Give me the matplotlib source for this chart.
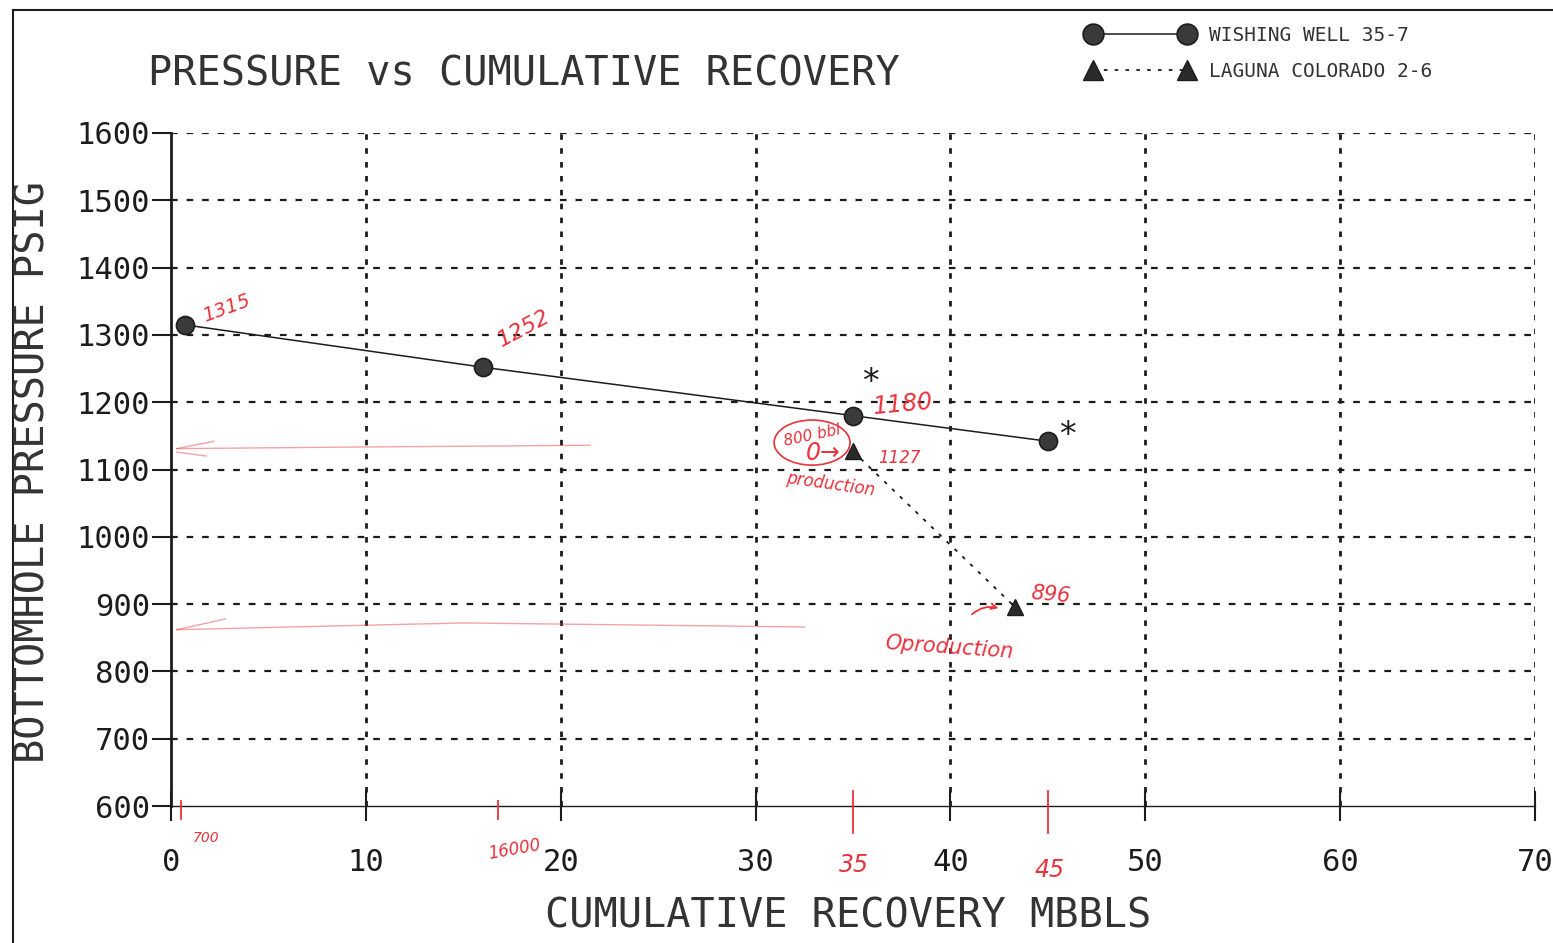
import numpy as np
import matplotlib
matplotlib.use("Agg")
import matplotlib.pyplot as plt
from matplotlib.patches import Ellipse
from matplotlib.lines import Line2D

# data (x in MBBLS, y in PSIG)
wishing_x = [0.7, 16.0, 35.0, 45.0]
wishing_y = [1315, 1252, 1180, 1142]
laguna_x = [35.0, 43.3]
laguna_y = [1127, 896]

x_ticks = [0, 10, 20, 30, 40, 50, 60, 70]
y_ticks = [600, 700, 800, 900, 1000, 1100, 1200, 1300, 1400, 1500, 1600]

# handwritten red notes: (x, y, text, size, rotation)
red_notes = [
    (1.5, 1340, "1315", 14, 20),
    (16.6, 1310, "1252", 16, 28),
    (36.0, 1197, "1180", 17, 5),
    (36.3, 1117, "1127", 12, 0),
    (44.1, 914, "896", 15, -5),
    (36.6, 835, "Oproduction", 15, -4),
    (31.5, 1078, "production", 12, -8),
    (31.4, 1150, "800 bbl", 11, 12),
    (32.6, 1125, "0\u2192", 17, 0),
    (1.1, 553, "700", 10, 0),
    (16.2, 535, "16000", 12, 10),
    (34.3, 512, "35", 17, 0),
    (44.3, 505, "45", 17, 0),
]
red_ticks = [0.5, 16.8, 35.0, 45.0]

mono = "DejaVu Sans Mono"
ink = "#1c1c1c"
red = "#e8323c"

fig = plt.figure(figsize=(15.53, 9.43), dpi=100)
ax = fig.add_axes([171 / 1553, 1 - 806 / 943, (1535 - 171) / 1553, (806 - 133) / 943])

ax.set_xlim(0, 70)
ax.set_ylim(600, 1600)
ax.set_xticks(x_ticks)
ax.set_yticks(y_ticks)
ax.set_xticklabels([str(v) for v in x_ticks], family=mono, fontsize=22, color="#333")
ax.set_yticklabels([str(v) for v in y_ticks], family=mono, fontsize=22, color="#333")
ax.tick_params(axis="y", direction="out", length=14, width=1.5, pad=1, colors=ink)
ax.tick_params(axis="x", direction="inout", length=22, width=1.5, pad=19, colors=ink)

for s in ["top", "right"]:
    ax.spines[s].set_visible(False)
ax.spines["left"].set_linewidth(2.0)
ax.spines["left"].set_color(ink)
ax.spines["bottom"].set_linewidth(1.0)
ax.spines["bottom"].set_color(ink)

# dotted printer grid
for v in y_ticks[1:]:
    ax.axhline(v, color=ink, lw=1.6, ls=(0, (3, 4)), zorder=1)
for v in x_ticks[1:]:
    ax.axvline(v, color=ink, lw=2.0, ls=(0, (2, 3)), zorder=1)

ax.plot(wishing_x, wishing_y, color=ink, lw=1.1, marker="o", ms=13,
        mfc="#3a3a3a", mec=ink, mew=1.2, zorder=4, label="WISHING WELL 35-7")
ax.plot(laguna_x, laguna_y, color=ink, lw=1.3, ls=(0, (2, 4)), marker="^", ms=12,
        mfc="#2a2a2a", mec=ink, zorder=4, label="LAGUNA COLORADO 2-6")

# black asterisks
ax.text(35.9, 1230, "*", fontsize=24, color=ink, ha="center", va="center")
ax.text(46.0, 1150, "*", fontsize=24, color=ink, ha="center", va="center")

# red handwriting
for x, y, t, sz, rot in red_notes:
    ax.text(x, y, t, fontsize=sz, color=red, rotation=rot, style="italic",
            family="DejaVu Sans", ha="left", va="center", clip_on=False, zorder=5)
ax.add_patch(Ellipse((32.9, 1140), 3.9, 67, fill=False, ec=red, lw=1.2, zorder=5))
for x in red_ticks:
    ln = 20 if x < 20 else 40
    ax.plot([x, x], [600 + (8 if x < 20 else 22), 600 - ln], color=red, lw=1.3,
            clip_on=False, zorder=5)

# faint red arrows pointing at the pressure axis
ax.plot([21.5, 8.0, 0.3], [1136, 1133, 1131], color=red, lw=1.0, alpha=0.45, zorder=2)
ax.plot([0.3, 2.2], [1131, 1142], color=red, lw=1.0, alpha=0.45, zorder=2)
ax.plot([0.3, 1.8], [1126, 1120], color=red, lw=1.0, alpha=0.45, zorder=2)
ax.plot([32.5, 15.0, 0.3], [866, 872, 862], color=red, lw=1.0, alpha=0.45, zorder=2)
ax.plot([0.3, 2.8], [862, 878], color=red, lw=1.0, alpha=0.45, zorder=2)
ax.annotate("", xy=(42.6, 893), xytext=(41.0, 882),
            arrowprops=dict(arrowstyle="->", color=red, lw=1.3,
                            connectionstyle="arc3,rad=-0.3"))

leg = fig.legend(loc="upper left", bbox_to_anchor=(1087 / 1553, 1 - 26 / 943),
                 frameon=False, numpoints=2, handlelength=5.45, handletextpad=0.8,
                 labelspacing=0.85, borderpad=0, borderaxespad=0, markerscale=1.15,
                 prop={"family": mono, "size": 14})
for t in leg.get_texts():
    t.set_color("#333")

fig.text(148 / 1553, 1 - 74 / 943, "PRESSURE vs CUMULATIVE RECOVERY", family=mono,
         fontsize=29, color="#333", ha="left", va="center")
fig.text(34 / 1553, 1 - 472 / 943, "BOTTOMHOLE PRESSURE PSIG", family=mono,
         fontsize=29, color="#333", ha="center", va="center", rotation=90)
fig.text(848 / 1553, 1 - 917 / 943, "CUMULATIVE RECOVERY MBBLS", family=mono,
         fontsize=29, color="#333", ha="center", va="center")

# page border of the scan
fig.add_artist(Line2D([13 / 1553, 13 / 1553], [0, 1 - 10 / 943], color=ink, lw=1.5))
fig.add_artist(Line2D([13 / 1553, 1], [1 - 10 / 943, 1 - 10 / 943], color=ink, lw=1.5))

fig.savefig("out.png", dpi=100)
